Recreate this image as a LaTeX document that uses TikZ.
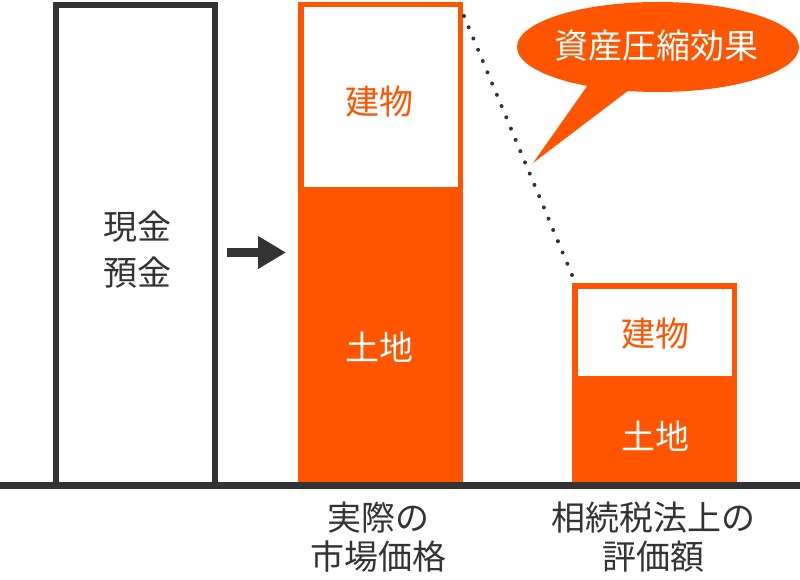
\documentclass[tikz,border=0pt]{standalone}
\usepackage{fontspec}
\setmainfont{Noto Sans CJK JP}
\usetikzlibrary{arrows.meta}
\definecolor{barorange}{HTML}{FF5500}
\definecolor{inkgray}{HTML}{333333}
\begin{document}
\begin{tikzpicture}[x = 1pt, y = -1pt,
    txt/.style = {font = \fontsize{34}{39}\selectfont, align = center, inner sep = 0pt},
    frame/.style = {draw = barorange, line width = 5.5pt, fill = white}]
  \useasboundingbox (0,0) rectangle (800,580);
  \draw [inkgray, line width = 6pt] (56,485) -- (56,5) -- (215,5) -- (215,485);
  \node [txt, inkgray, font = \fontsize{34}{46}\selectfont] (cash) at (137,250) {現金\\預金};
  \coordinate (arrA) at (227,252.5);
  \coordinate (arrB) at (286,252.5);
  \draw [inkgray, line width = 9pt, -{Triangle[length = 28pt, width = 31pt]}] (arrA) -- (arrB);
  \fill [barorange] (298,188) rectangle (463,485);
  \draw [frame] (300.75,4.75) rectangle (460.25,190);
  \node [txt, barorange] (build1) at (379,102) {建物};
  \node [txt, white] (land1) at (379,347) {土地};
  \fill [barorange] (572,376) rectangle (737,485);
  \draw [frame] (574.75,285.75) rectangle (734.25,378.75);
  \node [txt, barorange] (build2) at (655,334) {建物};
  \node [txt, white] (land2) at (655,436) {土地};
  \coordinate (top1) at (464,16);
  \coordinate (top2) at (572,275);
  \draw [inkgray, line width = 4pt, line cap = round, dash pattern = on 0pt off 12.2pt]
    (top1) -- (top2);
  \fill [barorange] (658,47) ellipse [x radius = 141, y radius = 45];
  \fill [barorange] (590,82) -- (533,163) -- (633,87) -- cycle;
  \node [txt, white] (effect) at (656,46) {資産圧縮効果};
  \draw [inkgray, line width = 7pt] (0,485.5) -- (800,485.5);
  \node [txt, inkgray] (market) at (378,537) {実際の\\市場価格};
  \node [txt, inkgray] (taxval) at (653,537) {相続税法上の\\評価額};
\end{tikzpicture}
\end{document}
